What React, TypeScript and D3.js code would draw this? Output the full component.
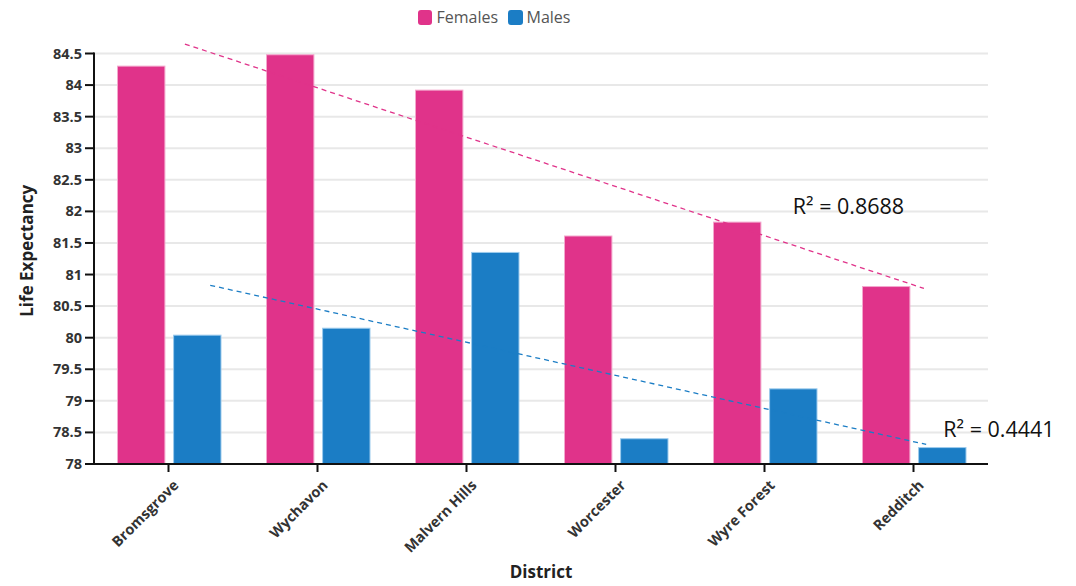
import React from "react";
import * as d3 from "d3";

const districts = ["Bromsgrove", "Wychavon", "Malvern Hills", "Worcester", "Wyre Forest", "Redditch"];
const females = [84.3, 84.48, 83.92, 81.61, 81.83, 80.81];
const males = [80.04, 80.15, 81.35, 78.4, 79.19, 78.26];
const yTicks = [78, 78.5, 79, 79.5, 80, 80.5, 81, 81.5, 82, 82.5, 83, 83.5, 84, 84.5];
// trend lines: position in category units (0..6), value
const femaleTrend = [{ pos: 0.61, v: 84.65 }, { pos: 5.57, v: 80.78 }];
const maleTrend = [{ pos: 0.78, v: 80.83 }, { pos: 5.585, v: 78.31 }];
const r2Labels = [
  { text: "R² = 0.8688", pos: 4.69, v: 81.96 },
  { text: "R² = 0.4441", pos: 5.70, v: 78.43 },
];
const seriesNames = ["Females", "Males"];
const colors = ["#e0338a", "#1b7dc5"];

export default function App() {
  const W = 1076, H = 586;
  const left = 94, right = 988, top = 53.5, bottom = 464;
  const x0 = d3.scaleBand<string>().domain(districts).range([left, right]).padding(0);
  const x1 = d3.scaleBand<string>().domain(seriesNames).range([23.5, x0.bandwidth() - 22]).paddingInner(0.155);
  const y = d3.scaleLinear().domain([78, 84.5]).range([bottom, top]);
  const xp = d3.scaleLinear().domain([0, 6]).range([left, right]);
  const line = d3.line<{ pos: number; v: number }>().x(d => xp(d.pos)).y(d => y(d.v));
  const font = "'Open Sans', sans-serif";
  const data = [females, males];

  return (
    <svg width={W} height={H} style={{ position: "absolute", left: 0, top: 0 }} fontFamily={font}>
      {/* legend */}
      <g>
        <rect x={418} y={10} width={14} height={15} rx={3} fill={colors[0]} />
        <text x={436.5} y={22.5} fontSize={16} fill="#555">Females</text>
        <rect x={508} y={10} width={15} height={15} rx={3} fill={colors[1]} />
        <text x={526.5} y={22.5} fontSize={16} fill="#555">Males</text>
      </g>
      {/* grid */}
      {yTicks.map(t => (
        <line key={"g" + t} x1={left} x2={right} y1={y(t)} y2={y(t)} stroke="#e8e8e8" strokeWidth={2} />
      ))}
      {/* bars */}
      {districts.map((d, i) => (
        <g key={d}>
          {seriesNames.map((s, j) => (
            <rect key={s}
              x={(x0(d) as number) + (x1(s) as number)}
              y={y(data[j][i])}
              width={x1.bandwidth()}
              height={bottom - y(data[j][i])}
              fill={colors[j]}
              stroke={j === 0 ? "#f3a8cd" : "#9ccbed"}
              strokeWidth={1} />
          ))}
        </g>
      ))}
      {/* axes */}
      <line x1={left} x2={left} y1={top - 1} y2={bottom + 1} stroke="#111" strokeWidth={2} />
      <line x1={left - 1} x2={right} y1={bottom} y2={bottom} stroke="#111" strokeWidth={2} />
      {yTicks.map(t => (
        <g key={"t" + t}>
          <line x1={left - 9} x2={left} y1={y(t)} y2={y(t)} stroke="#111" strokeWidth={2} />
          <text x={left - 12} y={y(t)} dy="0.35em" textAnchor="end" fontSize={14.5} fontWeight="bold" fill="#333">{t}</text>
        </g>
      ))}
      {districts.map(d => {
        const cx = (x0(d) as number) + x0.bandwidth() / 2;
        return (
          <g key={"x" + d}>
            <line x1={cx} x2={cx} y1={bottom} y2={bottom + 8} stroke="#111" strokeWidth={2} />
            <text transform={`translate(${cx + 4},${bottom + 15}) rotate(-45)`} textAnchor="end" dy="0.7em"
              fontSize={14.5} fontWeight="bold" fill="#333">{d}</text>
          </g>
        );
      })}
      <text transform={`translate(33,${(top + bottom) / 2 - 8}) rotate(-90)`} textAnchor="middle" fontSize={17} fontWeight="bold" fill="#222">Life Expectancy</text>
      <text x={(left + right) / 2} y={578} textAnchor="middle" fontSize={17} fontWeight="bold" fill="#222">District</text>
      {/* trend lines */}
      <path d={line(femaleTrend) as string} fill="none" stroke={colors[0]} strokeWidth={1.3} strokeDasharray="5,4" />
      <path d={line(maleTrend) as string} fill="none" stroke={colors[1]} strokeWidth={1.3} strokeDasharray="5,4" />
      {r2Labels.map(l => (
        <text key={l.text} x={xp(l.pos)} y={y(l.v)} fontSize={21.5} fill="#111">{l.text}</text>
      ))}
    </svg>
  );
}
